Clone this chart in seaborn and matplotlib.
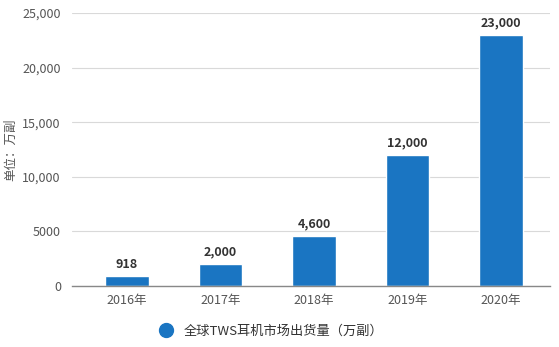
import matplotlib
matplotlib.use("Agg")
import matplotlib.pyplot as plt
import seaborn as sns
import pandas as pd
from matplotlib.lines import Line2D

years = ["2016年", "2017年", "2018年", "2019年", "2020年"]
values = [918, 2000, 4600, 12000, 23000]
value_labels = ["918", "2,000", "4,600", "12,000", "23,000"]
yticks = [0, 5000, 10000, 15000, 20000, 25000]
ytick_labels = ["0", "5000", "10,000", "15,000", "20,000", "25,000"]
series_name = "全球TWS耳机市场出货量（万副）"
ylabel = "单位：万副"

sns.set_theme(style="white")
plt.rcParams['font.family'] = ['Noto Sans CJK SC', 'DejaVu Sans']

df = pd.DataFrame({"year": years, "value": values})
color = "#1a75c2"

fig = plt.figure(figsize=(5.59, 3.47), dpi=100)
ax = fig.add_axes([72/559, 61/347, 478/559, 273/347])

sns.barplot(data=df, x="year", y="value", color=color, width=0.47,
            saturation=1, ax=ax)

ax.set_xlim(-0.588, 4.524)
ax.set_ylim(0, 25000)
ax.set_yticks(yticks)
ax.set_yticklabels(ytick_labels, color="#555555", fontsize=9)
ax.tick_params(axis="x", colors="#555555", labelsize=9, length=0, pad=6)
ax.tick_params(axis="y", length=0, pad=8)
ax.yaxis.grid(True, color="#d9d9d9", linewidth=0.8)
ax.set_axisbelow(True)
for s in ["top", "right", "left"]:
    ax.spines[s].set_visible(False)
ax.spines["bottom"].set_color("#888888")
ax.spines["bottom"].set_linewidth(1.0)
ax.set_xlabel("")
ax.set_ylabel(ylabel, color="#555555", fontsize=9, labelpad=4)

for i, (v, lab) in enumerate(zip(values, value_labels)):
    ax.text(i, v + 500, lab, ha="center", va="bottom", fontsize=9,
            fontweight="bold", color="#333333")

handle = Line2D([0], [0], marker="o", linestyle="none", markersize=10,
                markerfacecolor=color, markeredgecolor=color)
fig.legend([handle], [series_name], loc="center", bbox_to_anchor=(0.48, 0.045),
           frameon=False, fontsize=9.5, handletextpad=0.3,
           labelcolor="#333333")

fig.savefig("out.png", dpi=100)
